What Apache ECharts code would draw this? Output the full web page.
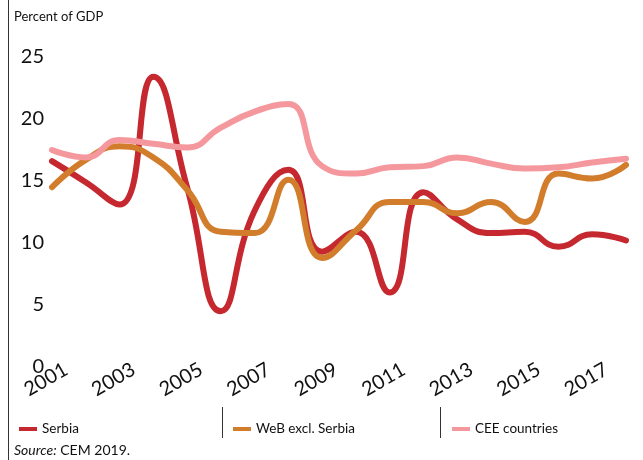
<!DOCTYPE html>
<html>
<head>
<meta charset="utf-8">
<script src="https://cdn.jsdelivr.net/npm/echarts@6/dist/echarts.min.js"></script>
<style>
  html, body { margin: 0; padding: 0; background: #fff; }
  #chart { width: 643px; height: 460px; }
</style>
</head>
<body>
<div id="chart"></div>
<script>
var years = ["2001", "2002", "2003", "2004", "2005", "2006", "2007", "2008", "2009",
  "2010", "2011", "2012", "2013", "2014", "2015", "2016", "2017", "2018"];
var serbia = [16.6, 14.9, 13.1, 23.4, 14.5, 4.5, 12.6, 15.9, 9.3,
  10.9, 6.0, 14.1, 11.9, 10.8, 10.9, 9.7, 10.7, 10.2];
var webExclSerbia = [14.5, 16.7, 17.8, 16.9, 14.3, 10.9, 10.8, 15.1, 8.8,
  11.0, 13.3, 13.3, 12.4, 13.3, 11.7, 15.6, 15.2, 16.3];
var ceeCountries = [17.5, 16.9, 18.3, 18.0, 17.7, 19.3, 20.6, 21.2, 16.2,
  15.6, 16.1, 16.2, 16.9, 16.4, 16.0, 16.1, 16.5, 16.8];

var font = "Lato, 'Open Sans', sans-serif";
var red = "#c5282f";
var orange = "#d17d2c";
var pink = "#f5989d";

var myChart = echarts.init(document.getElementById("chart"));

function lineSeries(name, data, color) {
  return {
    name: name,
    type: "line",
    data: data,
    smooth: 0.5,
    symbol: "none",
    lineStyle: { color: color, width: 6, cap: "round" },
    itemStyle: { color: color }
  };
}

function legendAt(name, left) {
  return {
    data: [name],
    left: left,
    top: 417,
    icon: "rect",
    itemWidth: 18,
    itemHeight: 4,
    itemGap: 4,
    selectedMode: false,
    textStyle: { fontFamily: font, fontSize: 13.5, color: "#111" }
  };
}

var option = {
  animation: false,
  grid: { left: 52, right: 17, top: 57, bottom: 93, containLabel: false },
  xAxis: {
    type: "category",
    data: years,
    boundaryGap: false,
    axisLine: { show: false },
    axisTick: { show: false },
    axisLabel: {
      interval: 1,
      rotate: 30,
      align: "center",
      margin: 9,
      padding: [0, 14, 0, 0],
      fontFamily: font,
      fontSize: 20,
      color: "#111"
    }
  },
  yAxis: {
    type: "value",
    min: 0,
    max: 25,
    interval: 5,
    splitLine: { show: false },
    axisLine: { show: false },
    axisTick: { show: false },
    axisLabel: { margin: 8, fontFamily: font, fontSize: 20, color: "#111" }
  },
  legend: [
    legendAt("Serbia", 14),
    legendAt("WeB excl. Serbia", 228),
    legendAt("CEE countries", 447)
  ],
  graphic: [
    { type: "line", shape: { x1: 8.5, y1: 0, x2: 8.5, y2: 460 }, style: { stroke: "#333", lineWidth: 1 } },
    { type: "line", shape: { x1: 222.5, y1: 407, x2: 222.5, y2: 438 }, style: { stroke: "#333", lineWidth: 1 } },
    { type: "line", shape: { x1: 440.5, y1: 407, x2: 440.5, y2: 438 }, style: { stroke: "#333", lineWidth: 1 } },
    {
      type: "text", left: 14, top: 10,
      style: { text: "Percent of GDP", fontFamily: font, fontSize: 13, fill: "#111" }
    },
    {
      type: "text", left: 14, top: 443,
      style: {
        text: "{i|Source:} CEM 2019.",
        fontFamily: font, fontSize: 14, fill: "#111",
        rich: { i: { fontStyle: "italic", fontFamily: font, fontSize: 14, fill: "#111" } }
      }
    }
  ],
  series: [
    lineSeries("Serbia", serbia, red),
    lineSeries("WeB excl. Serbia", webExclSerbia, orange),
    lineSeries("CEE countries", ceeCountries, pink)
  ]
};

myChart.setOption(option);
</script>
</body>
</html>
